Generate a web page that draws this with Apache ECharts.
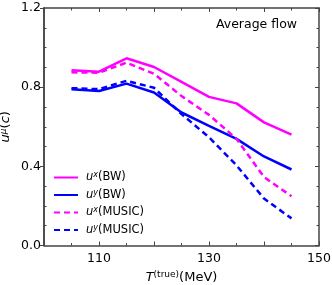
<!DOCTYPE html>
<html><head><meta charset="utf-8">
<script src="https://cdn.jsdelivr.net/npm/echarts@6/dist/echarts.min.js"></script>
<style>html,body{margin:0;padding:0;background:#fff}#c{width:332px;height:285px}</style>
</head><body><div id="c"></div>
<script>
const temps = [105, 110, 115, 120, 125, 130, 135, 140, 145];
const uxBW    = [0.885, 0.878, 0.946, 0.902, 0.827, 0.751, 0.718, 0.622, 0.560];
const uyBW    = [0.790, 0.781, 0.818, 0.773, 0.672, 0.605, 0.539, 0.450, 0.384];
const uxMUSIC = [0.875, 0.873, 0.924, 0.868, 0.755, 0.660, 0.539, 0.346, 0.249];
const uyMUSIC = [0.795, 0.790, 0.832, 0.797, 0.664, 0.547, 0.405, 0.237, 0.137];
const xLabels = [110, 130, 150];
const seriesNames = ['uxBW', 'uyBW', 'uxMUSIC', 'uyMUSIC'];

const font = 'DejaVu Sans';
const axisCol = '#444';
const chart = echarts.init(document.getElementById('c'));
function richSet(fs, sfs, up) {
  return {
    it: {fontFamily: font, fontStyle: 'italic', fontSize: fs, color: '#000'},
    n: {fontFamily: font, fontSize: fs, color: '#000'},
    sup: {fontFamily: font, fontSize: sfs, color: '#000', padding: [0, 0, up, 0]},
    supi: {fontFamily: font, fontStyle: 'italic', fontSize: sfs, color: '#000', padding: [0, 0, up, 0]}
  };
}
const legendLabels = {
  'uxBW': '{it|u}{supi|x}{n|(BW)}',
  'uyBW': '{it|u}{supi|y}{n|(BW)}',
  'uxMUSIC': '{it|u}{supi|x}{n|(MUSIC)}',
  'uyMUSIC': '{it|u}{supi|y}{n|(MUSIC)}'
};
function mk(name, data, color, dashed) {
  return {
    name: name, type: 'line', data: temps.map((t, i) => [t, data[i]]),
    showSymbol: false, symbol: 'none', xAxisIndex: 0, yAxisIndex: 0,
    lineStyle: {color: color, width: 2.5, type: dashed ? [6, 4] : 'solid'},
    itemStyle: {color: color}
  };
}
const line = {show: true, onZero: false, lineStyle: {color: axisCol, width: 1.5}};
const tickStyle = {color: axisCol, width: 1};
function xAx(pos, labels) {
  const a = {
    type: 'value', min: 100, max: 150, interval: 10, position: pos,
    axisLine: line, splitLine: {show: false},
    axisTick: {show: true, inside: true, length: 4, lineStyle: tickStyle},
    minorTick: {show: true, splitNumber: 2, length: 2.5, lineStyle: tickStyle},
    axisLabel: {show: false}
  };
  if (labels) {
    a.axisLabel = {show: true, customValues: xLabels, fontFamily: font, fontSize: 12.5, color: '#000', margin: 7};
    a.name = '{it|T}{sup|(true)}{n|(MeV)}';
    a.nameLocation = 'middle'; a.nameGap = 24;
    a.nameTextStyle = {rich: richSet(13, 9, 6)};
  }
  return a;
}
function yAx(pos, opts) {
  return Object.assign({
    type: 'value', min: 0, max: 1.2, interval: 0.4, position: pos,
    axisLine: line, splitLine: {show: false},
    axisTick: {show: true, inside: true, length: 4, lineStyle: tickStyle},
    minorTick: {show: true, splitNumber: 4, length: 2.5, lineStyle: tickStyle},
    axisLabel: {show: false}
  }, opts);
}
chart.setOption({
  animation: false,
  grid: {left: 44, right: 13, top: 8, bottom: 39.5, outerBoundsMode: 'none', containLabel: false},
  title: {text: 'Average flow', right: 30, top: 13, textStyle: {fontFamily: font, fontSize: 12.5, fontWeight: 'normal', color: '#000'}},
  legend: {
    left: 48, top: 166, orient: 'vertical', itemWidth: 24, itemHeight: 12, itemGap: 5,
    itemStyle: {opacity: 0},
    formatter: n => legendLabels[n],
    textStyle: {rich: richSet(11.5, 8, 5), fontFamily: font, fontSize: 11.5, padding: [0, 0, 0, 3]},
    data: seriesNames
  },
  xAxis: [xAx('bottom', true), xAx('top', false)],
  yAxis: [
    yAx('left', {
      axisTick: {show: true, inside: false, length: 4, lineStyle: tickStyle},
      minorTick: {show: false},
      axisLabel: {show: true, formatter: v => v.toFixed(1), fontFamily: font, fontSize: 12.5, color: '#000', margin: 3},
      name: '{it|u}{supi|μ}{n|(}{it|c}{n|)}', nameLocation: 'middle', nameGap: 31, nameRotate: 90,
      nameMoveOverlap: false,
      nameTextStyle: {rich: richSet(13, 9, 5)}
    }),
    yAx('left', {axisTick: {show: false, inside: true}}),
    yAx('right', {})
  ],
  series: [
    mk('uxBW', uxBW, '#ff00ff', false),
    mk('uyBW', uyBW, '#0000ff', false),
    mk('uxMUSIC', uxMUSIC, '#ff00ff', true),
    mk('uyMUSIC', uyMUSIC, '#0000ff', true)
  ]
});
</script></body></html>
